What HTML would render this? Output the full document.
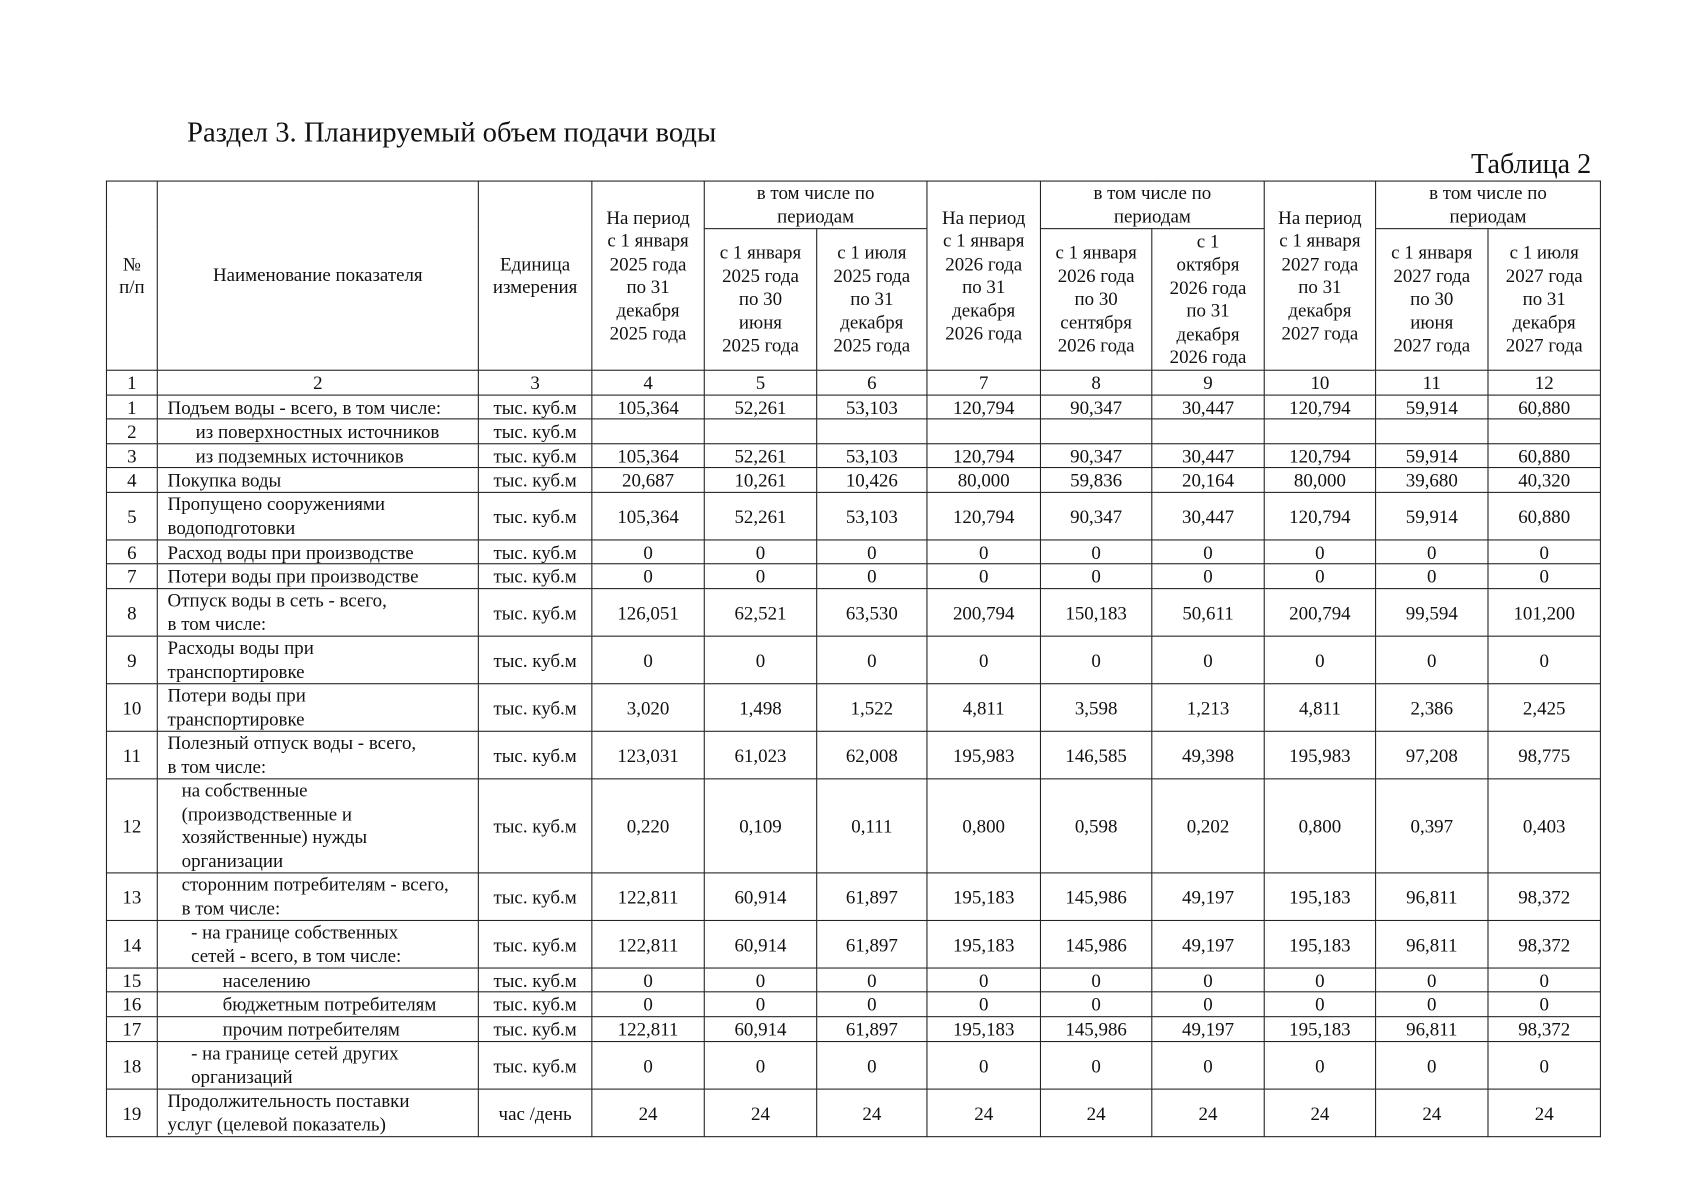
<!DOCTYPE html>
<html><head><meta charset="utf-8">
<style>
html,body{margin:0;padding:0;background:#fff;}
body{width:1697px;height:1200px;overflow:hidden;position:relative;}
#w{position:absolute;left:0;top:0;width:1570px;height:1110px;transform:scale(1.081);transform-origin:0 0;font-family:"Liberation Serif","Noto Serif CJK SC",serif;color:#111;}
.title{position:absolute;left:173px;top:107px;font-size:26.5px;}
.tab{position:absolute;right:98px;top:137px;font-size:26px;}
table{position:absolute;left:98px;top:167px;border-collapse:collapse;table-layout:fixed;font-size:17.5px;line-height:18px;}
td{border:1.7px solid #222;text-align:center;vertical-align:middle;padding:0;overflow:hidden;white-space:nowrap;}
tr.h td, td.n{line-height:21.5px;}
tr.s td.n{line-height:18px;}
td.n{text-align:left;padding-left:9px;}
.i1{padding-left:35px!important;}
.i2{padding-left:60px!important;}
.i3{padding-left:22px!important;}
</style></head><body><div id="w">
<div class="title">Раздел 3. Планируемый объем подачи воды</div>
<div class="tab">Таблица 2</div>
<table>
<colgroup><col style="width:47px"><col style="width:297px"><col style="width:105px"><col style="width:104px"><col style="width:104px"><col style="width:102px"><col style="width:105px"><col style="width:103px"><col style="width:104px"><col style="width:103px"><col style="width:104px"><col style="width:104px"></colgroup>
<tr class="h" style="height:44px"><td rowspan="2">№<br>п/п</td><td rowspan="2">Наименование показателя</td><td rowspan="2">Единица<br>измерения</td><td rowspan="2">На период<br>с 1 января<br>2025 года<br>по 31<br>декабря<br>2025 года</td><td colspan="2">в том числе по<br>периодам</td><td rowspan="2">На период<br>с 1 января<br>2026 года<br>по 31<br>декабря<br>2026 года</td><td colspan="2">в том числе по<br>периодам</td><td rowspan="2">На период<br>с 1 января<br>2027 года<br>по 31<br>декабря<br>2027 года</td><td colspan="2">в том числе по<br>периодам</td></tr>
<tr class="h" style="height:131px"><td>с 1 января<br>2025 года<br>по 30<br>июня<br>2025 года</td><td>с 1 июля<br>2025 года<br>по 31<br>декабря<br>2025 года</td><td>с 1 января<br>2026 года<br>по 30<br>сентября<br>2026 года</td><td>с 1<br>октября<br>2026 года<br>по 31<br>декабря<br>2026 года</td><td>с 1 января<br>2027 года<br>по 30<br>июня<br>2027 года</td><td>с 1 июля<br>2027 года<br>по 31<br>декабря<br>2027 года</td></tr>
<tr style="height:23px"><td>1</td><td>2</td><td>3</td><td>4</td><td>5</td><td>6</td><td>7</td><td>8</td><td>9</td><td>10</td><td>11</td><td>12</td></tr>
<tr class="s" style="height:22px"><td>1</td><td class="n">Подъем воды - всего, в том числе:</td><td>тыс. куб.м</td><td>105,364</td><td>52,261</td><td>53,103</td><td>120,794</td><td>90,347</td><td>30,447</td><td>120,794</td><td>59,914</td><td>60,880</td></tr>
<tr class="s" style="height:23px"><td>2</td><td class="n i1">из поверхностных источников</td><td>тыс. куб.м</td><td></td><td></td><td></td><td></td><td></td><td></td><td></td><td></td><td></td></tr>
<tr class="s" style="height:22px"><td>3</td><td class="n i1">из подземных источников</td><td>тыс. куб.м</td><td>105,364</td><td>52,261</td><td>53,103</td><td>120,794</td><td>90,347</td><td>30,447</td><td>120,794</td><td>59,914</td><td>60,880</td></tr>
<tr class="s" style="height:23px"><td>4</td><td class="n">Покупка воды</td><td>тыс. куб.м</td><td>20,687</td><td>10,261</td><td>10,426</td><td>80,000</td><td>59,836</td><td>20,164</td><td>80,000</td><td>39,680</td><td>40,320</td></tr>
<tr style="height:44px"><td>5</td><td class="n">Пропущено сооружениями<br>водоподготовки</td><td>тыс. куб.м</td><td>105,364</td><td>52,261</td><td>53,103</td><td>120,794</td><td>90,347</td><td>30,447</td><td>120,794</td><td>59,914</td><td>60,880</td></tr>
<tr class="s" style="height:22px"><td>6</td><td class="n">Расход воды при производстве</td><td>тыс. куб.м</td><td>0</td><td>0</td><td>0</td><td>0</td><td>0</td><td>0</td><td>0</td><td>0</td><td>0</td></tr>
<tr class="s" style="height:23px"><td>7</td><td class="n">Потери воды при производстве</td><td>тыс. куб.м</td><td>0</td><td>0</td><td>0</td><td>0</td><td>0</td><td>0</td><td>0</td><td>0</td><td>0</td></tr>
<tr style="height:44px"><td>8</td><td class="n">Отпуск воды в сеть - всего,<br>в том числе:</td><td>тыс. куб.м</td><td>126,051</td><td>62,521</td><td>63,530</td><td>200,794</td><td>150,183</td><td>50,611</td><td>200,794</td><td>99,594</td><td>101,200</td></tr>
<tr style="height:43px"><td>9</td><td class="n">Расходы воды при<br>транспортировке</td><td>тыс. куб.м</td><td>0</td><td>0</td><td>0</td><td>0</td><td>0</td><td>0</td><td>0</td><td>0</td><td>0</td></tr>
<tr style="height:44px"><td>10</td><td class="n">Потери воды при<br>транспортировке</td><td>тыс. куб.м</td><td>3,020</td><td>1,498</td><td>1,522</td><td>4,811</td><td>3,598</td><td>1,213</td><td>4,811</td><td>2,386</td><td>2,425</td></tr>
<tr style="height:44px"><td>11</td><td class="n">Полезный отпуск воды - всего,<br>в том числе:</td><td>тыс. куб.м</td><td>123,031</td><td>61,023</td><td>62,008</td><td>195,983</td><td>146,585</td><td>49,398</td><td>195,983</td><td>97,208</td><td>98,775</td></tr>
<tr style="height:87px"><td>12</td><td class="n i3">на собственные<br>(производственные и<br>хозяйственные) нужды<br>организации</td><td>тыс. куб.м</td><td>0,220</td><td>0,109</td><td>0,111</td><td>0,800</td><td>0,598</td><td>0,202</td><td>0,800</td><td>0,397</td><td>0,403</td></tr>
<tr style="height:44px"><td>13</td><td class="n i3">сторонним потребителям - всего,<br>в том числе:</td><td>тыс. куб.м</td><td>122,811</td><td>60,914</td><td>61,897</td><td>195,183</td><td>145,986</td><td>49,197</td><td>195,183</td><td>96,811</td><td>98,372</td></tr>
<tr style="height:43px"><td>14</td><td class="n i3">&nbsp;&nbsp;- на границе собственных<br>&nbsp;&nbsp;сетей - всего, в том числе:</td><td>тыс. куб.м</td><td>122,811</td><td>60,914</td><td>61,897</td><td>195,183</td><td>145,986</td><td>49,197</td><td>195,183</td><td>96,811</td><td>98,372</td></tr>
<tr class="s" style="height:22px"><td>15</td><td class="n i2">населению</td><td>тыс. куб.м</td><td>0</td><td>0</td><td>0</td><td>0</td><td>0</td><td>0</td><td>0</td><td>0</td><td>0</td></tr>
<tr class="s" style="height:23px"><td>16</td><td class="n i2">бюджетным потребителям</td><td>тыс. куб.м</td><td>0</td><td>0</td><td>0</td><td>0</td><td>0</td><td>0</td><td>0</td><td>0</td><td>0</td></tr>
<tr class="s" style="height:23px"><td>17</td><td class="n i2">прочим потребителям</td><td>тыс. куб.м</td><td>122,811</td><td>60,914</td><td>61,897</td><td>195,183</td><td>145,986</td><td>49,197</td><td>195,183</td><td>96,811</td><td>98,372</td></tr>
<tr style="height:44px"><td>18</td><td class="n i3">&nbsp;&nbsp;- на границе сетей других<br>&nbsp;&nbsp;организаций</td><td>тыс. куб.м</td><td>0</td><td>0</td><td>0</td><td>0</td><td>0</td><td>0</td><td>0</td><td>0</td><td>0</td></tr>
<tr style="height:43px"><td>19</td><td class="n">Продолжительность поставки<br>услуг (целевой показатель)</td><td>час /день</td><td>24</td><td>24</td><td>24</td><td>24</td><td>24</td><td>24</td><td>24</td><td>24</td><td>24</td></tr>
</table>
</div></body></html>
